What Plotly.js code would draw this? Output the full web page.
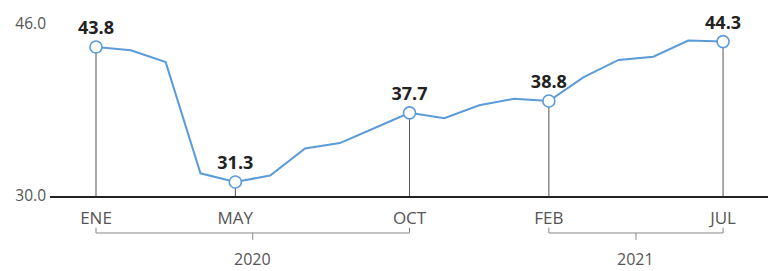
<!DOCTYPE html>
<html><head><meta charset="utf-8">
<script src="https://cdn.plot.ly/plotly-3.0.1.min.js"></script>
<style>html,body{margin:0;padding:0;background:#fff}#chart{width:768px;height:271px}</style>
</head><body><div id="chart"></div>
<script>
const months = ['ENE','FEB','MAR','ABR','MAY','JUN','JUL','AGO','SEP','OCT','NOV','DIC','ENE','FEB','MAR','ABR','MAY','JUN','JUL'];
const values = [43.8,43.5,42.4,32.1,31.3,31.9,34.4,34.9,36.3,37.7,37.2,38.4,39.0,38.8,41.0,42.6,42.9,44.4,44.3];
const labeledIdx = [0,4,9,13,18];
const yTicks = [30,46];
const yTickText = ['30.0','46.0'];
const years = ['2020','2021'];
const yearFrom = [0,13];
const yearTo = [9,18];

const idx = months.map((m,i)=>i);
const blue = '#5b9bd8';
const lx = labeledIdx, ly = labeledIdx.map(i=>values[i]);

const traces = [
  {x: idx, y: values, mode:'lines', line:{color:blue, width:2}, hoverinfo:'skip'},
  {x: lx, y: ly, mode:'markers+text', text: ly.map(v=>v.toFixed(1)), textposition:'top center',
   textfont:{family:'Open Sans', size:18, color:'#222', weight:700},
   marker:{size:12, color:'#fff', line:{color:blue, width:1.6}}, cliponaxis:false, hoverinfo:'skip'}
];

const shapes = [];
labeledIdx.forEach(i=>{
  shapes.push({type:'line', xref:'x', yref:'y', x0:i, x1:i, y0:30, y1:values[i], line:{color:'#555', width:1}, layer:'below'});
});
const annotations = [];
const bY = -0.201, bEnd = -0.172, bTick = -0.238;
years.forEach((yr,k)=>{
  const a = yearFrom[k], b = yearTo[k], c = (a+b)/2;
  const lc = {color:'#888', width:1};
  shapes.push({type:'line', xref:'x', yref:'paper', x0:a, x1:b, y0:bY, y1:bY, line:lc});
  shapes.push({type:'line', xref:'x', yref:'paper', x0:a, x1:a, y0:bY, y1:bEnd, line:lc});
  shapes.push({type:'line', xref:'x', yref:'paper', x0:b, x1:b, y0:bY, y1:bEnd, line:lc});
  shapes.push({type:'line', xref:'x', yref:'paper', x0:c, x1:c, y0:bY, y1:bTick, line:lc});
  annotations.push({x:c, xref:'x', y:-0.345, yref:'paper', text:yr, showarrow:false, yanchor:'middle',
    font:{family:'Open Sans', size:16, color:'#555'}});
});

const layout = {
  width:768, height:271,
  margin:{l:50, r:0, t:12, b:75},
  paper_bgcolor:'#fff', plot_bgcolor:'#fff',
  showlegend:false,
  xaxis:{range:[-1.32,19.29], tickvals:labeledIdx, ticktext:labeledIdx.map(i=>months[i]),
    showgrid:false, zeroline:false, showline:true, linecolor:'#222', linewidth:2,
    ticks:'', ticklabelstandoff:6, tickfont:{family:'Open Sans', size:17, color:'#555'}, fixedrange:true},
  yaxis:{range:[30,47.04], tickvals:yTicks, ticktext:yTickText, showgrid:false, zeroline:false, showline:false,
    ticks:'', ticklabelstandoff:3, tickfont:{family:'Open Sans', size:15.5, color:'#555'}, fixedrange:true},
  shapes: shapes,
  annotations: annotations
};
Plotly.newPlot('chart', traces, layout, {displayModeBar:false, staticPlot:true});
</script></body></html>
